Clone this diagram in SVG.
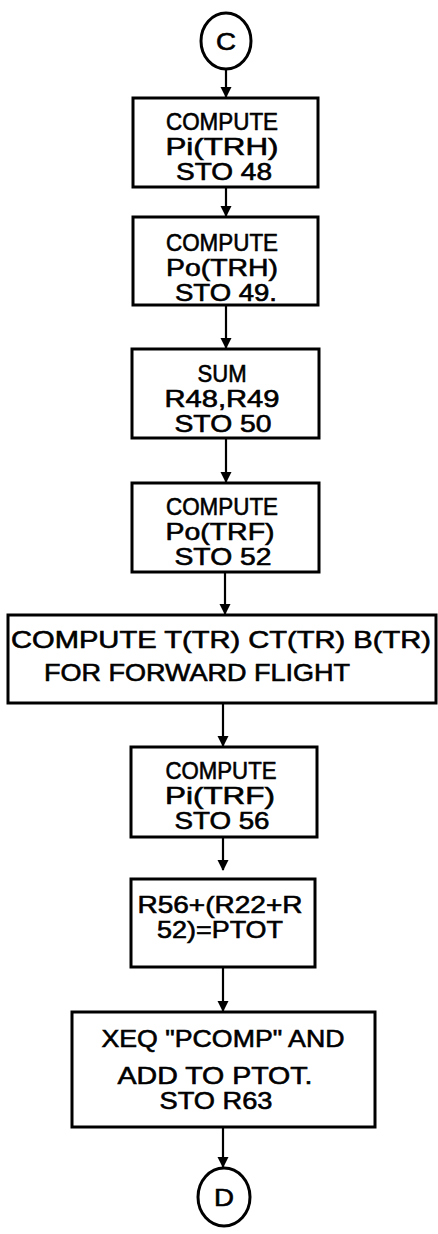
<svg xmlns="http://www.w3.org/2000/svg" width="438" height="1234" viewBox="0 0 438 1234">
<defs>
<style>
.box{fill:#fff;stroke:#000;stroke-width:3}
.t{font-family:"Liberation Sans",Arial,sans-serif;font-size:24px;fill:#000;stroke:#000;stroke-width:0.6;text-anchor:middle}
.tl{font-family:"Liberation Sans",Arial,sans-serif;font-size:24px;fill:#000;stroke:#000;stroke-width:0.6}
.c{fill:none;stroke:#000;stroke-width:2.2}
</style>
<marker id="ah" markerWidth="11" markerHeight="13" refX="10" refY="5.5" orient="auto" markerUnits="userSpaceOnUse">
<path d="M0,0 L11,5.5 L0,11 Z" fill="#000"/>
</marker>
</defs>
<rect width="438" height="1234" fill="#fff"/>
<g id="connectors">
<line class="c" x1="226" y1="69" x2="226" y2="97" marker-end="url(#ah)"/>
<line class="c" x1="226" y1="187" x2="226" y2="216" marker-end="url(#ah)"/>
<line class="c" x1="226" y1="305" x2="226" y2="348" marker-end="url(#ah)"/>
<line class="c" x1="226" y1="438" x2="226" y2="482" marker-end="url(#ah)"/>
<line class="c" x1="225" y1="572" x2="225" y2="614" marker-end="url(#ah)"/>
<line class="c" x1="223" y1="703" x2="223" y2="746" marker-end="url(#ah)"/>
<line class="c" x1="223" y1="837" x2="223" y2="870" marker-end="url(#ah)"/>
<line class="c" x1="223" y1="967" x2="223" y2="1011" marker-end="url(#ah)"/>
<line class="c" x1="223" y1="1127" x2="223" y2="1167" marker-end="url(#ah)"/>
</g>
<g id="startC">
<ellipse class="box" cx="226" cy="41" rx="25" ry="28"/>
<text class="t" x="226" y="50" textLength="20" lengthAdjust="spacingAndGlyphs">C</text>
</g>
<g id="n1">
<rect class="box" x="133" y="98" width="185" height="89"/>
<text class="t" x="222" y="130" textLength="112" lengthAdjust="spacingAndGlyphs">COMPUTE</text>
<text class="t" x="222" y="155" textLength="113" lengthAdjust="spacingAndGlyphs">Pi(TRH)</text>
<text class="t" x="224" y="180" textLength="96" lengthAdjust="spacingAndGlyphs">STO 48</text>
</g>
<g id="n2">
<rect class="box" x="133" y="217" width="185" height="88"/>
<text class="t" x="222" y="251" textLength="112" lengthAdjust="spacingAndGlyphs">COMPUTE</text>
<text class="t" x="222" y="276" textLength="112" lengthAdjust="spacingAndGlyphs">Po(TRH)</text>
<text class="t" x="226" y="301" textLength="102" lengthAdjust="spacingAndGlyphs">STO 49.</text>
</g>
<g id="n3">
<rect class="box" x="132" y="349" width="187" height="89"/>
<text class="t" x="222" y="382" textLength="49" lengthAdjust="spacingAndGlyphs">SUM</text>
<text class="t" x="222" y="407" textLength="115" lengthAdjust="spacingAndGlyphs">R48,R49</text>
<text class="t" x="223" y="432" textLength="97" lengthAdjust="spacingAndGlyphs">STO 50</text>
</g>
<g id="n4">
<rect class="box" x="132" y="483" width="187" height="89"/>
<text class="t" x="222" y="515" textLength="112" lengthAdjust="spacingAndGlyphs">COMPUTE</text>
<text class="t" x="220" y="540" textLength="109" lengthAdjust="spacingAndGlyphs">Po(TRF)</text>
<text class="t" x="223" y="565" textLength="97" lengthAdjust="spacingAndGlyphs">STO 52</text>
</g>
<g id="n5">
<rect class="box" x="8" y="615" width="428" height="88"/>
<text class="tl" x="11" y="648" textLength="420" lengthAdjust="spacingAndGlyphs">COMPUTE T(TR) CT(TR) B(TR)</text>
<text class="tl" x="44" y="681" textLength="306" lengthAdjust="spacingAndGlyphs">FOR FORWARD FLIGHT</text>
</g>
<g id="n6">
<rect class="box" x="131" y="747" width="186" height="90"/>
<text class="t" x="221" y="779" textLength="111" lengthAdjust="spacingAndGlyphs">COMPUTE</text>
<text class="t" x="220" y="804" textLength="110" lengthAdjust="spacingAndGlyphs">Pi(TRF)</text>
<text class="t" x="222" y="829" textLength="95" lengthAdjust="spacingAndGlyphs">STO 56</text>
</g>
<g id="n7">
<rect class="box" x="131" y="879" width="184" height="88"/>
<text class="t" x="220" y="913" textLength="165" lengthAdjust="spacingAndGlyphs">R56+(R22+R</text>
<text class="t" x="220" y="938" textLength="126" lengthAdjust="spacingAndGlyphs">52)=PTOT</text>
</g>
<g id="n8">
<rect class="box" x="72" y="1012" width="303" height="115"/>
<text class="t" x="223" y="1047" textLength="243" lengthAdjust="spacingAndGlyphs">XEQ "PCOMP" AND</text>
<text class="t" x="215" y="1084" textLength="195" lengthAdjust="spacingAndGlyphs">ADD TO PTOT.</text>
<text class="t" x="216" y="1109" textLength="113" lengthAdjust="spacingAndGlyphs">STO R63</text>
</g>
<g id="endD">
<ellipse class="box" cx="224" cy="1197" rx="26" ry="29"/>
<text class="t" x="224" y="1206" textLength="20" lengthAdjust="spacingAndGlyphs">D</text>
</g>
</svg>
